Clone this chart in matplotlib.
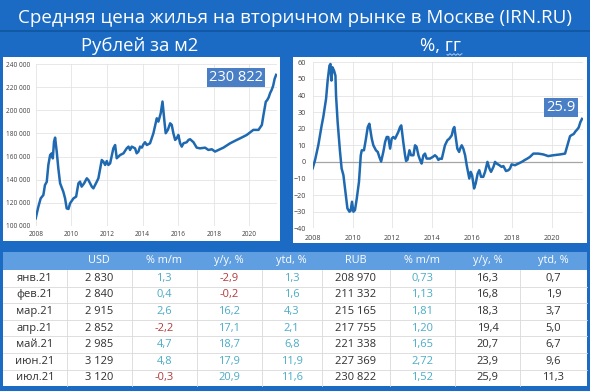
import matplotlib

matplotlib.use("Agg")

import matplotlib.pyplot as plt
import numpy as np
from matplotlib.patches import Rectangle
from matplotlib.ticker import FuncFormatter

plt.rcParams["font.family"] = ["Open Sans", "DejaVu Sans"]

W, H = 590, 391
BG = "#1b6bc4"
LINE = "#1f69b1"
TEAL = "#4bacc6"
RED = "#b23b3b"

# --- price, rub per m2 (thousands) ---
price_years = [
    2008.00, 2008.15, 2008.28, 2008.43, 2008.52, 2008.62, 2008.71, 2008.81, 2008.90, 2008.96,
    2009.03, 2009.09, 2009.18, 2009.27, 2009.37, 2009.55, 2009.65, 2009.74, 2009.84, 2009.93,
    2010.12, 2010.27, 2010.40, 2010.49, 2010.58, 2010.72, 2010.87, 2010.96, 2011.15, 2011.24,
    2011.43, 2011.52, 2011.71, 2011.80, 2011.90, 2011.99, 2012.08, 2012.18, 2012.36, 2012.46,
    2012.55, 2012.74, 2012.93, 2013.11, 2013.21, 2013.30, 2013.39, 2013.58, 2013.67, 2013.77,
    2013.86, 2013.96, 2014.05, 2014.14, 2014.24, 2014.42, 2014.61, 2014.80, 2014.89, 2015.02,
    2015.12, 2015.23, 2015.30, 2015.42, 2015.55, 2015.64, 2015.73, 2015.83, 2015.92, 2016.01,
    2016.11, 2016.20, 2016.30, 2016.48, 2016.58, 2016.67, 2016.86, 2017.04, 2017.23, 2017.51,
    2017.70, 2017.89, 2018.07, 2018.26, 2018.54, 2018.92, 2019.29, 2019.48, 2019.85, 2020.22,
    2020.51, 2020.70, 2020.79, 2020.92,
]
price_k = [
    106.4, 116.5, 123.7, 126.6, 135.3, 138.0, 152.7, 161.3, 162.8, 158.4,
    173.0, 176.4, 164.3, 149.8, 136.8, 129.5, 123.7, 115.0, 114.5, 119.4,
    123.7, 125.2, 136.8, 138.2, 133.9, 136.8, 141.1, 139.6, 133.9, 132.4,
    138.2, 141.1, 157.0, 155.6, 152.7, 156.1, 152.7, 154.1, 167.1, 170.0,
    158.5, 161.3, 162.8, 167.1, 168.6, 165.7, 168.6, 167.1, 162.8, 164.3,
    168.6, 167.7, 170.6, 172.4, 170.0, 171.5, 180.2, 193.2, 190.3, 197.5,
    207.7, 190.3, 180.2, 183.1, 188.8, 187.4, 180.2, 174.4, 175.8, 178.7,
    171.5, 168.6, 171.5, 172.4, 174.4, 175.0, 172.4, 167.7, 167.1, 167.7,
    165.7, 166.3, 164.3, 165.7, 167.7, 171.5, 174.4, 175.8, 178.7, 183.1,
    183.1, 187.4, 196.0, 207.5,
]

# --- y/y change, % ---
yoy_years = [
    2008.00, 2008.12, 2008.28, 2008.45, 2008.53, 2008.67, 2008.75, 2008.84, 2008.89, 2008.94,
    2008.99, 2009.07, 2009.14, 2009.17, 2009.25, 2009.37, 2009.45, 2009.54, 2009.62, 2009.74,
    2009.84, 2009.90, 2009.97, 2010.04, 2010.12, 2010.21, 2010.32, 2010.41, 2010.46, 2010.57,
    2010.67, 2010.76, 2010.84, 2010.96, 2011.04, 2011.17, 2011.26, 2011.34, 2011.43, 2011.54,
    2011.63, 2011.71, 2011.79, 2011.88, 2011.96, 2012.04, 2012.13, 2012.21, 2012.29, 2012.38,
    2012.44, 2012.54, 2012.63, 2012.68, 2012.75, 2012.85, 2012.93, 2013.05, 2013.13, 2013.21,
    2013.30, 2013.38, 2013.46, 2013.55, 2013.63, 2013.71, 2013.88, 2014.02, 2014.13, 2014.22,
    2014.30, 2014.38, 2014.47, 2014.55, 2014.63, 2014.75, 2014.85, 2014.97, 2015.05, 2015.10,
    2015.18, 2015.25, 2015.34, 2015.39, 2015.47, 2015.55, 2015.64, 2015.72, 2015.80, 2015.85,
    2015.92, 2015.99, 2016.09, 2016.17, 2016.27, 2016.35, 2016.44, 2016.55, 2016.64, 2016.76,
    2016.86, 2016.94, 2017.06, 2017.14, 2017.22, 2017.36, 2017.47, 2017.56, 2017.69, 2017.81,
    2017.89, 2017.97, 2018.14, 2018.31, 2018.48, 2018.64, 2018.76, 2018.89, 2019.06, 2019.31,
    2019.56, 2019.81, 2020.06, 2020.40, 2020.65, 2020.77, 2020.90,
]
yoy_pct = [
    -3.8, 1.2, 10, 22, 27, 38, 49, 58, 59, 49,
    57, 55, 52, 40, 24, 6, -4, -8, -16, -28,
    -30, -29.5, -24, -30, -29, -22, -12, 4, 7, 7,
    14, 21, 23, 14, 10, 7, 6, 3, 0.2, 6,
    12, 15, 15, 8, 14, 15, 14, 16, 18, 21,
    22, 12, 4, 0.6, 1.2, 7, 4, 4, 10, 9,
    4, 1.2, -1, 4, 5, 2, 2, 3, 4, 3,
    1.2, 2, 1.8, 6, 10, 13, 14, 16, 20, 21,
    14, 8, 6, 8, 10, 8, 4, -2, -7, -10,
    -6, -8, -16, -13, -7, -5, -9, -9, -6, 0,
    -4, -6, -3, 0, -1, -2, -3, -2.5, -5.5, -5,
    -4, -1.5, -2, -1, 0, 1.2, 2, 3, 5, 5,
    4.5, 3.5, 4, 4.5, 5, 10, 15.5,
]

# --- table, 2021 ---
months = ["янв.21", "фев.21", "мар.21", "апр.21", "май.21", "июн.21", "июл.21"]
usd = ["2 830", "2 840", "2 915", "2 852", "2 985", "3 129", "3 120"]
usd_mm = [1.3, 0.4, 2.6, -2.2, 4.7, 4.8, -0.3]
usd_yy = [-2.9, -0.2, 16.2, 17.1, 18.7, 17.9, 20.9]
usd_ytd = [1.3, 1.6, 4.3, 2.1, 6.8, 11.9, 11.6]
rub = [208970, 211332, 215165, 217755, 221338, 227369, 230822]
rub_mm = [0.73, 1.13, 1.81, 1.20, 1.65, 2.72, 1.52]
rub_yy = [16.3, 16.8, 18.3, 19.4, 20.7, 23.9, 25.9]
rub_ytd = [0.7, 1.9, 3.7, 5.0, 6.7, 9.6, 11.3]
headers = ["", "USD", "% m/m", "y/y, %", "ytd, %", "RUB", "% m/m", "y/y, %", "ytd, %"]


def rect(x0, y0, x1, y1):
    return [x0 / W, 1 - y1 / H, (x1 - x0) / W, (y1 - y0) / H]


def comma(v, nd=1):
    return f"{v:.{nd}f}".replace(".", ",")


def thousands(v):
    return f"{int(v):,}".replace(",", " ")


def pos_neg(v):
    return TEAL if v >= 0 else RED


fig = plt.figure(figsize=(W / 100, H / 100), dpi=100, facecolor=BG)

bg = fig.add_axes([0, 0, 1, 1])
bg.set_xlim(0, W)
bg.set_ylim(H, 0)
bg.axis("off")

fig.text(0.5, 1 - 18 / H, "Средняя цена жилья на вторичном рынке в Москве (IRN.RU)",
         ha="center", va="center", color="white", fontsize=13.5)
bg.plot([0, W], [31, 31], color="#0f559f", lw=1.2)
fig.text(140 / W, 1 - 46 / H, "Рублей за м2", ha="center", va="center", color="white", fontsize=13.3)
fig.text(441 / W, 1 - 46 / H, "%, гг", ha="center", va="center", color="white", fontsize=13.3)
# spell-check squiggle under "гг"
sx = np.linspace(447, 462, 40)
bg.plot(sx, 54.5 + 0.7 * np.sin((sx - 447) * 1.6), color="#c9d9ee", lw=0.6)

# white chart panels
bg.add_patch(Rectangle((3, 57), 277, 184, facecolor="white", edgecolor="none"))
bg.add_patch(Rectangle((293, 57), 294, 186, facecolor="white", edgecolor="none"))


def style(ax, size):
    for s in ax.spines.values():
        s.set_visible(False)
    ax.grid(True, color="#e4e4e4", lw=0.6)
    ax.set_axisbelow(True)
    ax.tick_params(length=0, labelsize=size, colors="#404040")
    ax.set_xticks(range(2008, 2021, 2))
    ax.set_xlim(2008, 2021.55)


# left: rubles per m2
ax = fig.add_axes(rect(35.7, 64.3, 277, 225.7))
px = price_years + [2021 + m / 12 for m in range(len(rub))]
py = [v * 1000 for v in price_k] + rub
ax.plot(px, py, color=LINE, lw=1.8, solid_joinstyle="round")
ax.set_ylim(100000, 240000)
ax.set_yticks(range(100000, 240001, 20000))
ax.yaxis.set_major_formatter(FuncFormatter(lambda v, _: thousands(v)))
style(ax, 4.7)
ax.tick_params(axis="y", pad=4)
ax.tick_params(axis="x", pad=4)
fig.text(236 / W, 1 - 77.5 / H, thousands(rub[-1]), ha="center", va="center", color="white",
         fontsize=10.5, bbox=dict(boxstyle="square,pad=0.15", fc="#4a7fc6", ec="none"))

# right: y/y %
ax = fig.add_axes(rect(312.7, 62.3, 583, 228.3))
yx = yoy_years + [2021 + m / 12 for m in range(len(rub_yy))]
yy = yoy_pct + rub_yy
ax.plot(yx, yy, color=LINE, lw=1.8, solid_joinstyle="round")
ax.axhline(0, color="#a6a6a6", lw=0.9, zorder=1)
ax.set_ylim(-40, 60)
ax.set_yticks(range(-40, 61, 10))
style(ax, 5.2)
ax.tick_params(axis="y", pad=5)
ax.tick_params(axis="x", pad=4.5)
fig.text(561 / W, 1 - 107.5 / H, comma(rub_yy[-1]).replace(",", "."), ha="center", va="center",
         color="white", fontsize=10.5, bbox=dict(boxstyle="square,pad=0.15", fc="#4a7fc6", ec="none"))

# table
edges = [3, 66.7, 131.7, 196.7, 261.7, 321.7, 390, 455, 520, 587]
top, head_h, row_h = 251.5, 18.5, 16.6
bg.add_patch(Rectangle((3, top), 584, head_h, facecolor="#5f9ee0", edgecolor="none"))
body_top = top + head_h
bg.add_patch(Rectangle((3, body_top), 584, row_h * len(months), facecolor="white", edgecolor="none"))
centers = [(a + b) / 2 for a, b in zip(edges[:-1], edges[1:])]
for c, h in zip(centers, headers):
    bg.text(c, top + head_h / 2, h, ha="center", va="center", color="white", fontsize=7.8)
for i in range(1, len(months)):
    y = body_top + i * row_h
    bg.plot([3, 587], [y, y], color="#d9d9d9", lw=0.6)
for x in edges[1:-1]:
    bg.plot([x, x], [body_top, body_top + row_h * len(months)], color="#d9d9d9", lw=0.6)

for i, m in enumerate(months):
    y = body_top + (i + 0.5) * row_h
    cells = [
        (m, "#303030"),
        (usd[i], "#303030"),
        (comma(usd_mm[i]), pos_neg(usd_mm[i])),
        (comma(usd_yy[i]), pos_neg(usd_yy[i])),
        (comma(usd_ytd[i]), pos_neg(usd_ytd[i])),
        (thousands(rub[i]), "#303030"),
        (comma(rub_mm[i], 2), pos_neg(rub_mm[i])),
        (comma(rub_yy[i]), "#303030"),
        (comma(rub_ytd[i]), "#303030"),
    ]
    for c, (t, col) in zip(centers, cells):
        bg.text(c, y, t, ha="center", va="center", color=col, fontsize=8)

fig.savefig("out.png", dpi=100, facecolor=BG)
